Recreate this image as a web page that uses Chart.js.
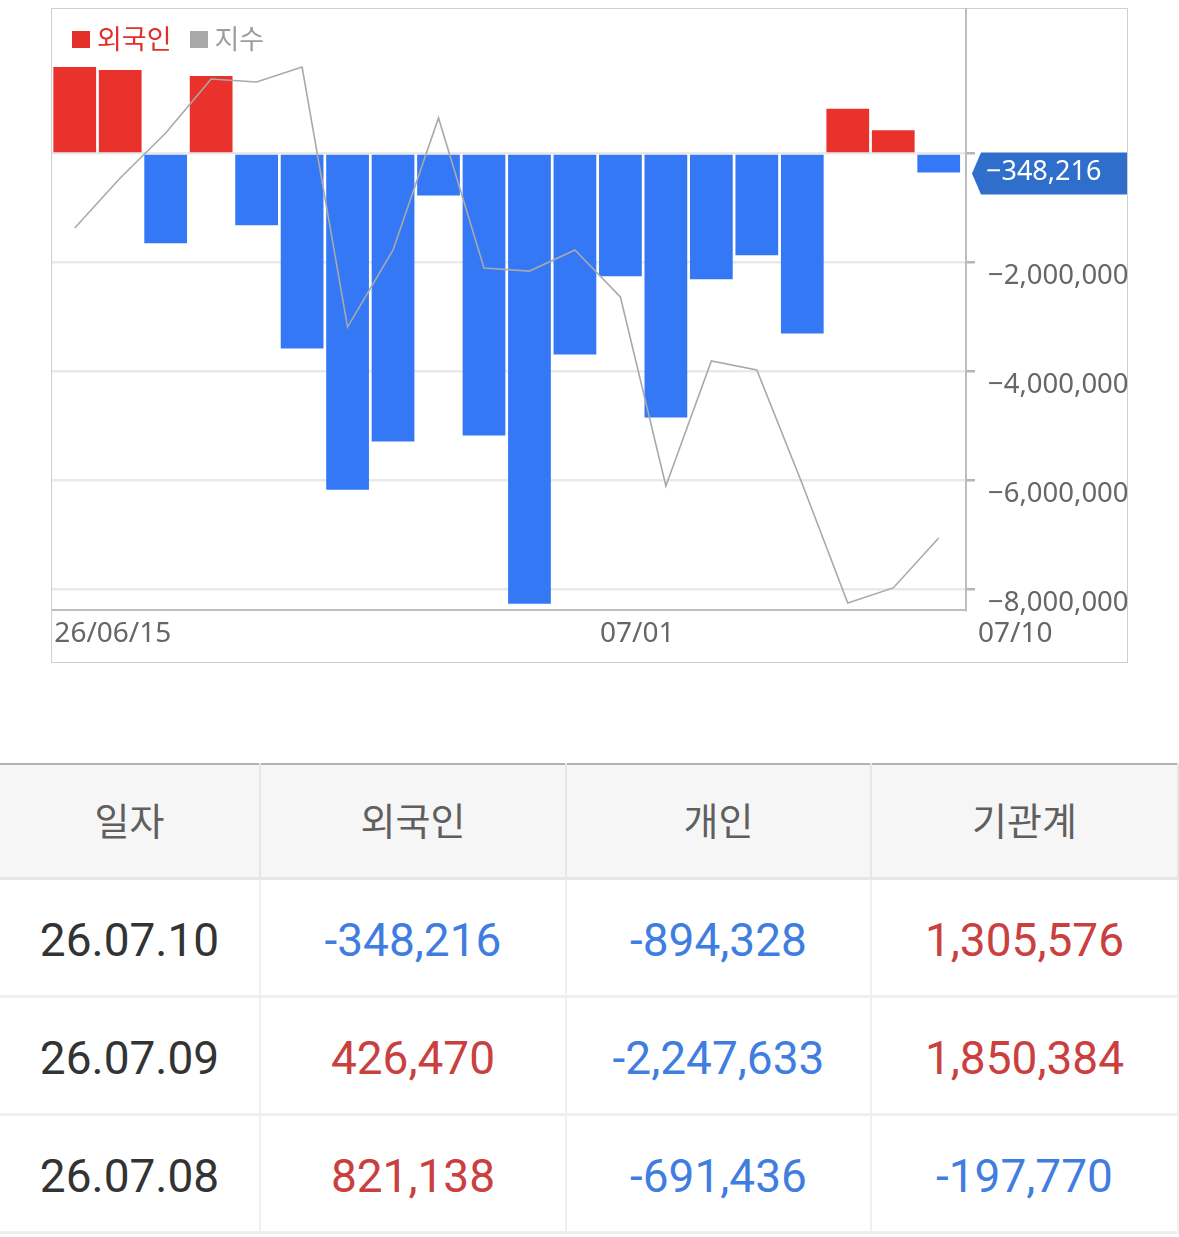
<!DOCTYPE html>
<html lang="ko">
<head>
<meta charset="utf-8">
<title>외국인 매매동향</title>
<script src="https://cdn.jsdelivr.net/npm/chart.js@4.4.1/dist/chart.umd.min.js"></script>
<style>
  html, body { margin: 0; padding: 0; background: #fff; }
  body { width: 1179px; height: 1237px; position: relative; overflow: hidden; font-family: "Noto Sans", "Noto Sans CJK KR", sans-serif; }
  .chart-box { position: absolute; left: 51px; top: 8px; width: 1077px; height: 655px; border: 1px solid #cfcfcf; box-sizing: border-box; }
  .chart-wrap { position: absolute; left: 52px; top: 8px; width: 1075px; height: 654px; }
  .legend { position: absolute; left: 72px; top: 22px; font-family: "Noto Sans CJK KR", sans-serif; font-size: 27px; line-height: 32px; white-space: nowrap; }
  .legend span { display: inline-block; vertical-align: top; }
  .legend .sq { width: 18px; height: 17px; margin-top: 9px; margin-right: 7px; }
  .legend .red { color: #e3302a; margin-right: 18px; }
  .legend .gray { color: #9d9d9d; }
  table { position: absolute; top: 763px; left: 0; width: 1178px; border-collapse: collapse; table-layout: fixed; border-top: 2px solid #b3b3b3; }
  th { height: 107px; background: #f6f6f6; font-family: "Noto Sans CJK KR", sans-serif; font-size: 38px; font-weight: 400; color: #5f5f5f; border-bottom: 3px solid #e6e6e6; border-right: 2px solid #e6e6e6; padding: 0 0 5px 0; }
  td { height: 111px; padding: 4px 0 0 0; font-family: Roboto, sans-serif; font-size: 46px; text-align: center; border-bottom: 3px solid #efefef; border-right: 2px solid #efefef; }
  th:first-child, td:first-child { box-shadow: 5px 0 6px -3px rgba(0,0,0,0.13); position: relative; }
  td.date { color: #333; }
  td.up { color: #c9403f; }
  td.down { color: #3f7ee0; }
</style>
</head>
<body>
<div class="chart-box"></div>
<div class="chart-wrap"><canvas id="chart"></canvas></div>
<div class="legend">
  <span class="sq" style="background:#e3302a"></span><span class="red">외국인</span><span class="sq" style="background:#a8a8a8"></span><span class="gray">지수</span>
</div>
<table id="flow">
  <colgroup><col style="width:260px"><col style="width:306px"><col style="width:305px"><col style="width:307px"></colgroup>
  <thead><tr><th>일자</th><th>외국인</th><th>개인</th><th>기관계</th></tr></thead>
  <tbody></tbody>
</table>
<script>
// chart data
const dates = ['26/06/15', '06/16', '06/17', '06/18', '06/19', '06/22', '06/23', '06/24', '06/25', '06/26',
  '06/29', '06/30', '07/01', '07/02', '07/03', '07/06', '07/07', '07/08', '07/09', '07/10'];
const foreignValues = [1586000, 1531000, -1649000, 1421000, -1318000, -3579000, -6171000, -5289000, -770000, -5178000,
  -8266000, -3689000, -2255000, -4847000, -2311000, -1869000, -3303000, 821138, 426470, -348216];
const indexValues = [2790.4, 2815.3, 2837.7, 2864.6, 2863.1, 2870.6, 2741.0, 2779.4, 2845.2, 2770.4,
  2768.9, 2779.4, 2756.0, 2661.8, 2724.1, 2719.6, 2662.8, 2603.5, 2611.0, 2635.9];
const tickValues = [0, -2000000, -4000000, -6000000, -8000000];
const shownDates = [0, 12, 19];

// table data
const tableDates = ['26.07.10', '26.07.09', '26.07.08'];
const tableForeign = [-348216, 426470, 821138];
const tablePersonal = [-894328, -2247633, -691436];
const tableInst = [1305576, 1850384, -197770];

const RED = '#e8322b';
const BLUE = '#3478f5';
const MINUS = '\u2212';

const fmt = v => v.toLocaleString('en-US');

const tbody = document.querySelector('#flow tbody');
tableDates.forEach((d, i) => {
  const tr = document.createElement('tr');
  const cells = [tableForeign[i], tablePersonal[i], tableInst[i]];
  let html = '<td class="date">' + d + '</td>';
  cells.forEach(v => {
    html += '<td class="' + (v < 0 ? 'down' : 'up') + '">' + fmt(v) + '</td>';
  });
  tr.innerHTML = html;
  tbody.appendChild(tr);
});

// date labels under the bars, left aligned to the bar
const dateLabels = {
  id: 'dateLabels',
  afterDraw(chart) {
    const ctx = chart.ctx;
    const area = chart.chartArea;
    const bars = chart.getDatasetMeta(1).data;
    ctx.save();
    ctx.font = '28px "Noto Sans"';
    ctx.fillStyle = '#666';
    ctx.textAlign = 'left';
    ctx.textBaseline = 'middle';
    shownDates.forEach(i => {
      let x = bars[i].x - bars[i].width / 2 + 1;
      if (i === dates.length - 1) x = area.right + 12;
      ctx.fillText(dates[i], x, area.bottom + 24);
    });
    ctx.restore();
  }
};

// last value marker on the right axis
const lastMarker = {
  id: 'lastMarker',
  afterDraw(chart) {
    const ctx = chart.ctx;
    const area = chart.chartArea;
    const v = foreignValues[foreignValues.length - 1];
    const y = chart.scales.y.getPixelForValue(v);
    const tip = area.right + 6;
    const right = chart.width;
    ctx.save();
    ctx.fillStyle = v < 0 ? '#2f6fcb' : '#d8302a';
    ctx.beginPath();
    ctx.moveTo(tip, y + 1);
    ctx.lineTo(tip + 9, y - 20);
    ctx.lineTo(right, y - 20);
    ctx.lineTo(right, y + 22);
    ctx.lineTo(tip + 9, y + 22);
    ctx.closePath();
    ctx.fill();
    ctx.font = '27px "Noto Sans"';
    ctx.fillStyle = '#fff';
    ctx.textAlign = 'left';
    ctx.textBaseline = 'middle';
    ctx.fillText((v < 0 ? MINUS : '') + fmt(Math.abs(v)), tip + 14, y);
    ctx.restore();
  }
};

new Chart(document.getElementById('chart'), {
  data: {
    datasets: [
      {
        type: 'line',
        label: '지수',
        data: indexValues.map((v, i) => ({ x: i, y: v })),
        yAxisID: 'y2',
        borderColor: '#a9a9a9',
        borderWidth: 1.6,
        pointRadius: 0,
        tension: 0,
        order: 0
      },
      {
        type: 'bar',
        label: '외국인',
        data: foreignValues.map((v, i) => ({ x: i, y: v })),
        yAxisID: 'y',
        backgroundColor: foreignValues.map(v => v < 0 ? BLUE : RED),
        barPercentage: 0.94,
        categoryPercentage: 1,
        order: 1
      }
    ]
  },
  options: {
    responsive: true,
    maintainAspectRatio: false,
    animation: false,
    layout: { padding: 0 },
    plugins: {
      legend: { display: false },
      tooltip: { enabled: false }
    },
    scales: {
      x: {
        type: 'linear',
        offset: false,
        min: -0.5,
        max: 19.6,
        grid: { display: false },
        border: { display: true, color: '#bdbdbd', width: 2 },
        ticks: { display: false },
        afterFit(scale) {
          scale.height = 52;
          scale.paddingLeft = 0;
          scale.paddingRight = 0;
        }
      },
      y: {
        position: 'right',
        min: -8380000,
        max: 2670000,
        afterBuildTicks(scale) { scale.ticks = tickValues.map(v => ({ value: v })); },
        grid: { color: '#e9e9e9', lineWidth: 2.5, tickLength: 9, tickColor: '#b5b5b5' },
        border: { display: true, color: '#bdbdbd', width: 2 },
        ticks: {
          padding: 13,
          labelOffset: 14,
          color: '#666',
          font: { family: '"Noto Sans"', size: 27.5 },
          callback: v => v === 0 ? '' : MINUS + fmt(Math.abs(v))
        },
        afterFit(scale) {
          scale.width = 161;
          scale.paddingTop = 0;
          scale.paddingBottom = 0;
        }
      },
      y2: {
        display: false,
        min: 2600,
        max: 2900
      }
    }
  },
  plugins: [dateLabels, lastMarker]
});
</script>
</body>
</html>
